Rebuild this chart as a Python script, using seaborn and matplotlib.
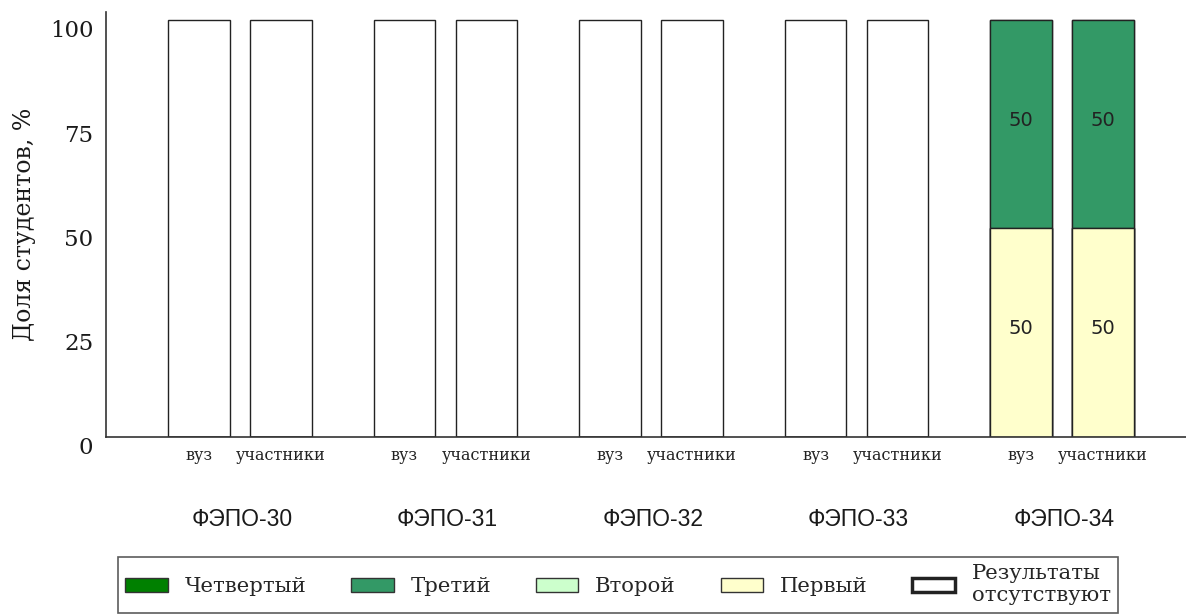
import numpy as np
import pandas as pd
import matplotlib
matplotlib.use("Agg")
import matplotlib.pyplot as plt
import matplotlib.transforms as mtransforms
from matplotlib.patches import Patch
import seaborn as sns

# ---- data ----
groups = ['ФЭПО-30', 'ФЭПО-31', 'ФЭПО-32', 'ФЭПО-33', 'ФЭПО-34']
subgroups = ['вуз', 'участники']
levels = ['Четвертый', 'Третий', 'Второй', 'Первый']
level_colors = ['#008000', '#339966', '#ccffcc', '#ffffcc']
# values per bar (group x subgroup, flattened)
first = [0, 0, 0, 0, 0, 0, 0, 0, 50, 50]
second = [0, 0, 0, 0, 0, 0, 0, 0, 0, 0]
third = [0, 0, 0, 0, 0, 0, 0, 0, 50, 50]
fourth = [0, 0, 0, 0, 0, 0, 0, 0, 0, 0]
no_results = [100, 100, 100, 100, 100, 100, 100, 100, 0, 0]
no_label = 'Результаты\nотсутствуют'
y_label = 'Доля студентов, %'
y_ticks = [0, 25, 50, 75, 100]

sns.set_theme(style='white')
plt.rcParams['font.family'] = ['DejaVu Serif']

fig = plt.figure(figsize=(11.86, 6.14), dpi=100)
ax = fig.add_axes([106 / 1186, 1 - 437 / 614, 1 - 106 / 1186, (437 - 12) / 614])

pos = []
for gi in range(len(groups)):
    pos += [gi - 0.2, gi + 0.2]
pos = np.array(pos)

bar_kw = dict(native_scale=True, width=0.75, saturation=1, edgecolor='#222222',
              linewidth=1, errorbar=None, ax=ax)

# no-results bars
df_none = pd.DataFrame({'pos': pos, 'val': no_results})
sns.barplot(data=df_none, x='pos', y='val', color='white', **bar_kw)

# stacked levels drawn as cumulative overlapping bars (top layer first)
layers_bottom_up = [first, second, third, fourth]
colors_bottom_up = ['#ffffcc', '#ccffcc', '#339966', '#008000']
cums = np.cumsum(np.array(layers_bottom_up, dtype=float), axis=0)
for k in range(3, -1, -1):
    d = pd.DataFrame({'pos': pos, 'val': cums[k]})
    sns.barplot(data=d, x='pos', y='val', color=colors_bottom_up[k], **bar_kw)

# segment labels
for k in range(4):
    vals = np.array(layers_bottom_up[k], dtype=float)
    bottoms = cums[k] - vals
    for p, v, b in zip(pos, vals, bottoms):
        if v > 0:
            ax.text(p, b + v / 2 + 1.0, f'{v:.0f}', ha='center', va='center',
                    fontsize=14, family='DejaVu Sans', color='#222222')

ax.set_xlim(-0.652, 4.603)
ax.set_ylim(0, 101.9)
ax.set_yticks(y_ticks)
ax.set_yticklabels([str(t) for t in y_ticks], fontsize=16.5, color='#1a1a1a')
ax.set_xticks(pos)
ax.set_xticklabels(subgroups * len(groups), fontsize=11.5, color='#222222')
ax.tick_params(axis='both', length=0)
ax.tick_params(axis='y', pad=9)
ax.tick_params(axis='x', pad=7)
off = mtransforms.ScaledTranslation(0, -9 / 100, fig.dpi_scale_trans)
for lab in ax.get_yticklabels():
    lab.set_transform(lab.get_transform() + off)
ax.set_xlabel('')
ax.set_ylabel(y_label, fontsize=17, color='#1a1a1a', labelpad=10)

for s in ['top', 'right']:
    ax.spines[s].set_visible(False)
for s in ['left', 'bottom']:
    ax.spines[s].set_color('#333333')
    ax.spines[s].set_linewidth(1.2)

trans = mtransforms.blended_transform_factory(ax.transData, ax.transAxes)
for gi, g in enumerate(groups):
    ax.text(gi + 0.01, -0.193, g, transform=trans, ha='center', va='center',
            fontsize=16.5, family='Liberation Sans', color='#1a1a1a')

handles = [Patch(facecolor=c, edgecolor='#333333', linewidth=1) for c in level_colors]
handles.append(Patch(facecolor='white', edgecolor='#222222', linewidth=2.5))
leg = fig.legend(handles, levels + [no_label], loc='upper center',
                 bbox_to_anchor=(618 / 1186, 1 - 557 / 614), borderaxespad=0,
                 ncol=5, frameon=True, fancybox=False, edgecolor='#333333',
                 prop={'family': 'DejaVu Serif', 'size': 15.3},
                 handlelength=2.0, handleheight=0.7, handletextpad=0.8,
                 columnspacing=2.1, borderpad=0.35, labelspacing=0.1)
leg.get_frame().set_linewidth(1.2)

fig.savefig('out.png', dpi=100)
